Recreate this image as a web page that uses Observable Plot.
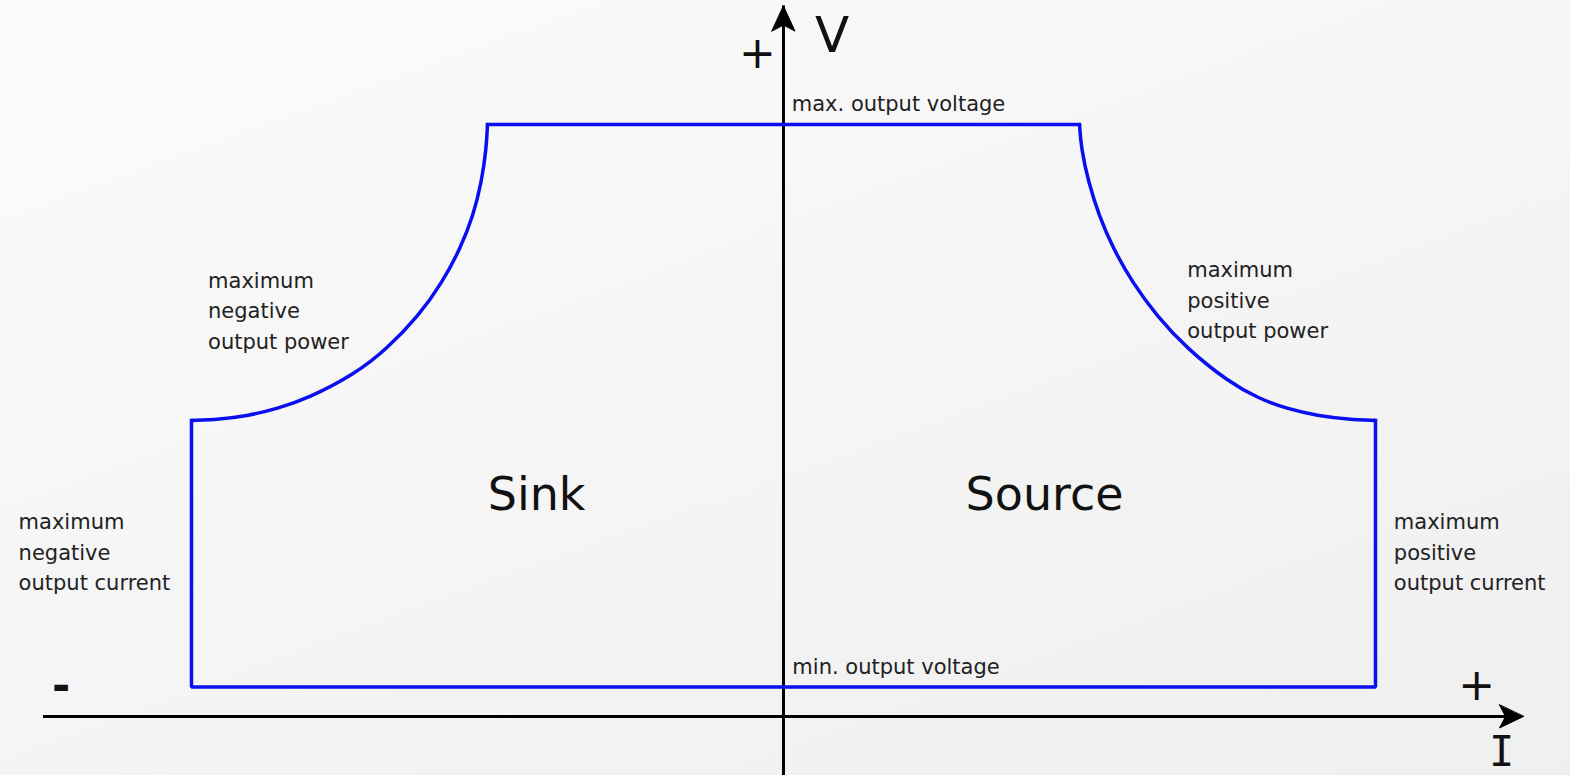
<!DOCTYPE html>
<html>
<head>
<meta charset="utf-8">
<script src="https://cdn.jsdelivr.net/npm/d3@7"></script>
<script src="https://cdn.jsdelivr.net/npm/@observablehq/plot@0.6"></script>
<style>
  html, body { margin: 0; padding: 0; overflow: hidden; }
  body {
    width: 1570px; height: 775px;
    background: linear-gradient(160deg, #fbfbfb 0%, #f7f7f7 35%, #f3f3f3 65%, #efefef 100%);
  }
  #chart svg { display: block; }
</style>
</head>
<body>
<div id="chart"></div>
<script>
// Operating envelope (current I, voltage V), in relative units
const maxCurrent = 10;       // max positive / negative output current
const maxVoltage = 10;       // max output voltage
const minVoltage = 0.5;      // min output voltage
const powerCornerI = 5;      // current at which power limit starts (top)
const powerCornerV = 5;      // voltage at which power limit ends (sides)

// Power-limit curves (top corner -> side corner)
const sinkCurveI   = [-5.00, -5.02, -5.10, -5.24, -5.46, -5.76, -6.16, -6.70, -7.23, -8.04, -8.55, -9.04, -9.54, -10.0];
const sinkCurveV   = [10.0, 9.59, 9.03, 8.46, 7.90, 7.34, 6.77, 6.21, 5.79, 5.37, 5.20, 5.08, 5.02, 5.00];
const sourceCurveI = [5.00, 5.03, 5.15, 5.33, 5.57, 5.89, 6.30, 6.82, 7.52, 8.03, 8.50, 9.02, 9.55, 10.0];
const sourceCurveV = [10.0, 9.59, 9.03, 8.46, 7.90, 7.34, 6.77, 6.21, 5.65, 5.37, 5.20, 5.08, 5.02, 5.00];

// Axis extents
const axisI = [-12.5, 12.5];
const axisV = [-1, 12];

// Annotations
const smallLabels = [
  {text: "max. output voltage", I: 0.14, V: 10.22},
  {text: "min. output voltage", I: 0.15, V: 0.72},
  {text: "maximum\nnegative\noutput power", I: -9.72, V: 6.21},
  {text: "maximum\npositive\noutput power", I: 6.82, V: 6.39},
  {text: "maximum\nnegative\noutput current", I: -12.92, V: 2.13},
  {text: "maximum\npositive\noutput current", I: 10.31, V: 2.13}
];
const regionLabels = [
  {text: "Sink", I: -4.17, V: 3.49},
  {text: "Source", I: 4.41, V: 3.49}
];
const axisNames = [
  {text: "V", I: 0.82, V: 11.22}
];
const signLabels = [
  {text: "+", I: -0.44, V: 11.2},
  {text: "+", I: 11.71, V: 0.52}
];
const minusLabels = [
  {text: "-", I: -12.2, V: 0.5}
];
const currentName = [
  {text: "I", I: 12.13, V: -0.83}
];

// Build tables
const straightEdges = [
  {I: -maxCurrent, V: powerCornerV},
  {I: -maxCurrent, V: minVoltage},
  {I: maxCurrent, V: minVoltage},
  {I: maxCurrent, V: powerCornerV}
];
const topEdge = [
  {I: -powerCornerI, V: maxVoltage},
  {I: powerCornerI, V: maxVoltage}
];
const sinkCurve = sinkCurveI.map((I, i) => ({I, V: sinkCurveV[i]}));
const sourceCurve = sourceCurveI.map((I, i) => ({I, V: sourceCurveV[i]}));

const arrowHead = {
  draw(context, l) {
    const w = 11.5, notch = 6;
    context.moveTo(0, -l);
    context.lineTo(w, 0);
    context.lineTo(0, -notch);
    context.lineTo(-w, 0);
    context.closePath();
  }
};

const blue = "#0a0ff0";
const font = "'DejaVu Sans', Verdana, sans-serif";

const chart = Plot.plot({
  width: 1570,
  height: 775,
  margin: 0,
  x: {domain: [-13.226, 13.294], axis: null},
  y: {domain: [-0.997, 12.095], axis: null},
  style: {background: "transparent", fontFamily: font},
  marks: [
    // axes
    Plot.ruleY([0], {x1: axisI[0], x2: axisI[1], stroke: "#000", strokeWidth: 3, insetRight: 14}),
    Plot.ruleX([0], {y1: axisV[0], y2: axisV[1], stroke: "#000", strokeWidth: 3, insetTop: 14}),
    Plot.vector([{I: 0, V: axisV[1]}], {x: "I", y: "V", length: 25, rotate: 0, anchor: "end", shape: arrowHead, fill: "#000", stroke: "#000", strokeWidth: 1}),
    Plot.vector([{I: axisI[1], V: 0}], {x: "I", y: "V", length: 24, rotate: 90, anchor: "end", shape: arrowHead, fill: "#000", stroke: "#000", strokeWidth: 1}),
    // envelope
    Plot.line(straightEdges, {x: "I", y: "V", stroke: blue, strokeWidth: 3.5, strokeLinejoin: "miter", strokeLinecap: "square"}),
    Plot.line(topEdge, {x: "I", y: "V", stroke: blue, strokeWidth: 3.5, strokeLinecap: "square"}),
    Plot.line(sinkCurve, {x: "I", y: "V", stroke: blue, strokeWidth: 3.5, curve: "basis", strokeLinecap: "round"}),
    Plot.line(sourceCurve, {x: "I", y: "V", stroke: blue, strokeWidth: 3.5, curve: "basis", strokeLinecap: "round"}),
    // labels
    Plot.text(smallLabels, {x: "I", y: "V", text: "text", textAnchor: "start", lineAnchor: "bottom", lineHeight: 1.46, fontSize: 21, fill: "#222"}),
    Plot.text(regionLabels, {x: "I", y: "V", text: "text", textAnchor: "middle", lineAnchor: "bottom", fontSize: 46, fill: "#111"}),
    Plot.text(axisNames, {x: "I", y: "V", text: "text", textAnchor: "middle", lineAnchor: "bottom", fontSize: 50, fill: "#111"}),
    Plot.text(signLabels, {x: "I", y: "V", text: "text", textAnchor: "middle", lineAnchor: "middle", fontSize: 44, fill: "#111"}),
    Plot.text(minusLabels, {x: "I", y: "V", text: "text", textAnchor: "middle", lineAnchor: "middle", fontSize: 44, fontWeight: "bold", fill: "#111"}),
    Plot.text(currentName, {x: "I", y: "V", text: "text", textAnchor: "middle", lineAnchor: "bottom", fontSize: 42, fontFamily: "'DejaVu Sans Mono', monospace", fill: "#111"})
  ]
});
document.getElementById("chart").appendChild(chart);
</script>
</body>
</html>
